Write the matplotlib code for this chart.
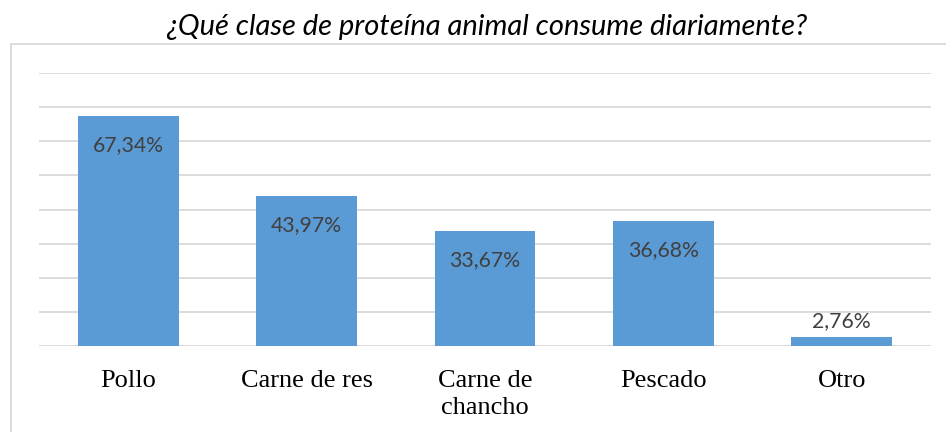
import matplotlib
matplotlib.use("Agg")
import matplotlib.pyplot as plt
from matplotlib.patches import Rectangle

categories = ["Pollo", "Carne de res", "Carne de\nchancho", "Pescado", "Otro"]
values = [67.34, 43.97, 33.67, 36.68, 2.76]
title = "¿Qué clase de proteína animal consume diariamente?"

W, H = 946, 432
fig = plt.figure(figsize=(W / 100, H / 100), dpi=100)

# outer chart frame (light grey, open at right and bottom)
fig.patches.append(Rectangle((10.5 / W, -0.1), 1.2, (H - 44) / H + 0.1,
                             transform=fig.transFigure, fill=False,
                             edgecolor="#D9D9D9", linewidth=1.3))

ax = fig.add_axes([39 / W, (H - 346) / H, (931 - 39) / W, (346 - 73) / H])
x = list(range(len(categories)))
bars = ax.bar(x, values, width=0.566, color="#5B9BD5", zorder=3)

ax.set_xlim(-0.5, len(categories) - 0.5)
ax.set_ylim(0, 80)
ax.set_yticks(range(0, 81, 10))
ax.yaxis.grid(True, color="#D9D9D9", linewidth=1.3, zorder=0)
ax.tick_params(axis="y", left=False, labelleft=False)
ax.tick_params(axis="x", bottom=False, pad=14)
for s in ax.spines.values():
    s.set_visible(False)
ax.set_xticks(x)
ax.set_xticklabels(categories, family="Liberation Serif", fontsize=19,
                   color="#000000", linespacing=1.25, va="top")

for xi, v in zip(x, values):
    lbl = f"{v:.2f}%".replace(".", ",")
    offset = -29 if v > 10 else 15
    ax.annotate(lbl, (xi, v), xytext=(0, offset), textcoords="offset pixels",
                ha="center", va="center", family="Lato", fontsize=15.3,
                color="#404040", zorder=4)

fig.text(487 / W, 1 - 27 / H, title, ha="center", va="center",
         family="Lato", style="italic", fontsize=21, color="#000000")

fig.savefig("out.png", dpi=100, facecolor="white")
